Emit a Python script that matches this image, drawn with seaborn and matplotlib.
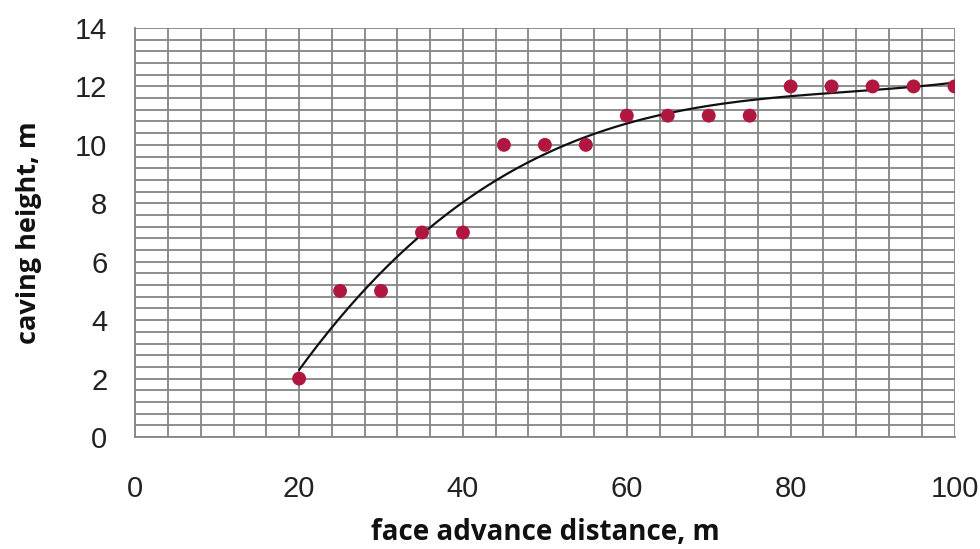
import matplotlib
matplotlib.use("Agg")

import matplotlib.pyplot as plt
import seaborn as sns
import numpy as np
import pandas as pd
from matplotlib.ticker import MultipleLocator

# measured points
distance = [20, 25, 30, 35, 40, 45, 50, 55, 60, 65, 70, 75, 80, 85, 90, 95, 100]
height = [2, 5, 5, 7, 7, 10, 10, 10, 11, 11, 11, 11, 12, 12, 12, 12, 12]

df = pd.DataFrame({"distance": distance, "height": height})

sns.set_theme(style="white")
plt.rcParams["font.family"] = ["Liberation Sans", "DejaVu Sans"]

fig = plt.figure(figsize=(9.8, 5.49), dpi=100)
ax = fig.add_axes([0.138, 0.204, 0.836, 0.745])

# trend line (polynomial fit, like a spreadsheet trendline)
z = np.polyfit(df["distance"], df["height"], 3)
p = np.poly1d(z)
xs = np.linspace(20, 100, 200)
ax.plot(xs, p(xs), color="#111111", linewidth=1.6, zorder=3)

sns.scatterplot(data=df, x="distance", y="height", ax=ax, color="#B0173F",
                s=100, edgecolor="none", zorder=4)

ax.set_xlim(0, 100)
ax.set_ylim(0, 14)
ax.xaxis.set_major_locator(MultipleLocator(20))
ax.xaxis.set_minor_locator(MultipleLocator(4))
ax.yaxis.set_major_locator(MultipleLocator(2))
ax.yaxis.set_minor_locator(MultipleLocator(0.4))
ax.grid(which="both", color="#858585", linewidth=1.3)
ax.set_axisbelow(True)

for side in ["top", "right"]:
    ax.spines[side].set_visible(False)
for side in ["left", "bottom"]:
    ax.spines[side].set_color("#858585")
    ax.spines[side].set_linewidth(1.3)

ax.tick_params(which="major", direction="out", length=8, width=1.3,
               color="#858585", labelsize=21, labelcolor="#222222")
ax.tick_params(which="minor", length=0)
ax.tick_params(axis="x", pad=19)
ax.tick_params(axis="y", pad=12)

ax.set_xlabel("face advance distance, m", fontsize=20, fontweight="bold",
              family=["Open Sans", "DejaVu Sans"], labelpad=11, color="#111111")
ax.set_ylabel("caving height, m", fontsize=19.5, fontweight="bold",
              family=["Open Sans", "DejaVu Sans"], labelpad=24, color="#111111")

fig.savefig("out.png", dpi=100)
